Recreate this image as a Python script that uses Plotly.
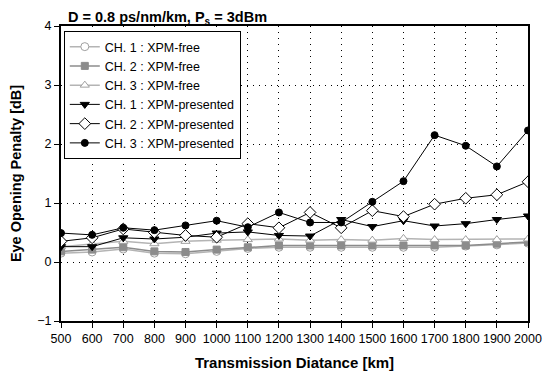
import plotly.graph_objects as go

distance_km = [500, 600, 700, 800, 900, 1000, 1100, 1200, 1300, 1400, 1500, 1600, 1700, 1800, 1900, 2000]

ch1_free = [0.15, 0.17, 0.22, 0.15, 0.14, 0.18, 0.23, 0.25, 0.25, 0.25, 0.25, 0.25, 0.25, 0.27, 0.29, 0.32]
ch2_free = [0.18, 0.21, 0.25, 0.18, 0.17, 0.21, 0.25, 0.28, 0.28, 0.28, 0.28, 0.28, 0.28, 0.28, 0.31, 0.34]
ch3_free = [0.26, 0.31, 0.35, 0.31, 0.35, 0.37, 0.38, 0.39, 0.37, 0.38, 0.37, 0.40, 0.38, 0.38, 0.38, 0.39]
ch1_pres = [0.26, 0.26, 0.41, 0.39, 0.42, 0.49, 0.51, 0.45, 0.44, 0.72, 0.60, 0.70, 0.61, 0.65, 0.72, 0.78]
ch2_pres = [0.35, 0.41, 0.56, 0.50, 0.45, 0.42, 0.65, 0.58, 0.84, 0.58, 0.87, 0.77, 0.98, 1.08, 1.14, 1.36]
ch3_pres = [0.49, 0.46, 0.58, 0.54, 0.62, 0.70, 0.59, 0.84, 0.67, 0.67, 1.02, 1.37, 2.15, 1.97, 1.62, 2.23]

names = ["CH. 1 : XPM-free", "CH. 2 : XPM-free", "CH. 3 : XPM-free",
         "CH. 1 : XPM-presented", "CH. 2 : XPM-presented", "CH. 3 : XPM-presented"]

FONT = "Arial, 'Liberation Sans', Helvetica, sans-serif"

styles = [
    dict(data=ch1_free, line=dict(color="#b4b4b4", width=1.5),
         marker=dict(symbol="circle", size=8, color="white", line=dict(color="#a0a0a0", width=1))),
    dict(data=ch2_free, line=dict(color="#8c8c8c", width=1.5),
         marker=dict(symbol="square", size=7, color="#8c8c8c", line=dict(color="#8c8c8c", width=1))),
    dict(data=ch3_free, line=dict(color="#b4b4b4", width=1.5),
         marker=dict(symbol="triangle-up", size=8, color="white", line=dict(color="#a0a0a0", width=1))),
    dict(data=ch1_pres, line=dict(color="black", width=1),
         marker=dict(symbol="triangle-down", size=8, color="black", line=dict(color="black", width=1))),
    dict(data=ch2_pres, line=dict(color="black", width=1),
         marker=dict(symbol="diamond", size=9, color="white", line=dict(color="black", width=1))),
    dict(data=ch3_pres, line=dict(color="black", width=1),
         marker=dict(symbol="circle", size=7, color="black", line=dict(color="black", width=1))),
]

fig = go.Figure()
for name, st in zip(names, styles):
    fig.add_trace(go.Scatter(x=distance_km, y=st["data"], name=name, mode="lines+markers",
                             line=st["line"], marker=st["marker"]))

# The page body has an 8px default margin, so the figure is 8px smaller
# and its margins are shifted accordingly.
W, H = 543, 365
fig.update_layout(
    width=W, height=H,
    margin=dict(l=53, r=23, t=18, b=52),
    paper_bgcolor="white", plot_bgcolor="white",
    font=dict(family=FONT, size=12.5, color="black"),
    title=dict(text="<b>D = 0.8 ps/nm/km, P<sub>s</sub> = 3dBm</b>",
               x=0.015, xanchor="left", xref="paper",
               y=1-9/H, yanchor="middle", yref="container",
               font=dict(family=FONT, size=14.5, color="black")),
    legend=dict(x=0.006, y=0.983, xanchor="left", yanchor="top",
                bgcolor="white", bordercolor="black", borderwidth=1,
                font=dict(family=FONT, size=12.5, color="black"),
                tracegroupgap=0, itemwidth=30),
    showlegend=True,
)

fig.update_xaxes(range=[500, 2000], tickmode="linear", tick0=500, dtick=100,
                 showline=True, linecolor="black", linewidth=2, mirror=True,
                 ticks="outside", ticklen=5, tickcolor="black", tickwidth=1,
                 showgrid=True, gridcolor="black", gridwidth=1, griddash="1px,5px",
                 zeroline=False, automargin=False,
                 tickfont=dict(family=FONT, size=12.5, color="black"),
                 title=dict(text="<b>Transmission Diatance [km]</b>", standoff=12,
                            font=dict(family=FONT, size=15, color="black")))
fig.update_yaxes(range=[-1, 4], tickmode="linear", tick0=-1, dtick=1,
                 showline=True, linecolor="black", linewidth=2, mirror=True,
                 ticks="outside", ticklen=5, tickcolor="black", tickwidth=1,
                 showgrid=True, gridcolor="black", gridwidth=1, griddash="1px,5px",
                 zeroline=False, automargin=False,
                 tickfont=dict(family=FONT, size=12.5, color="black"),
                 title=dict(text="<b>Eye Opening Penalty [dB]</b>", standoff=19,
                            font=dict(family=FONT, size=14.5, color="black")))

fig.write_html("out.html")
